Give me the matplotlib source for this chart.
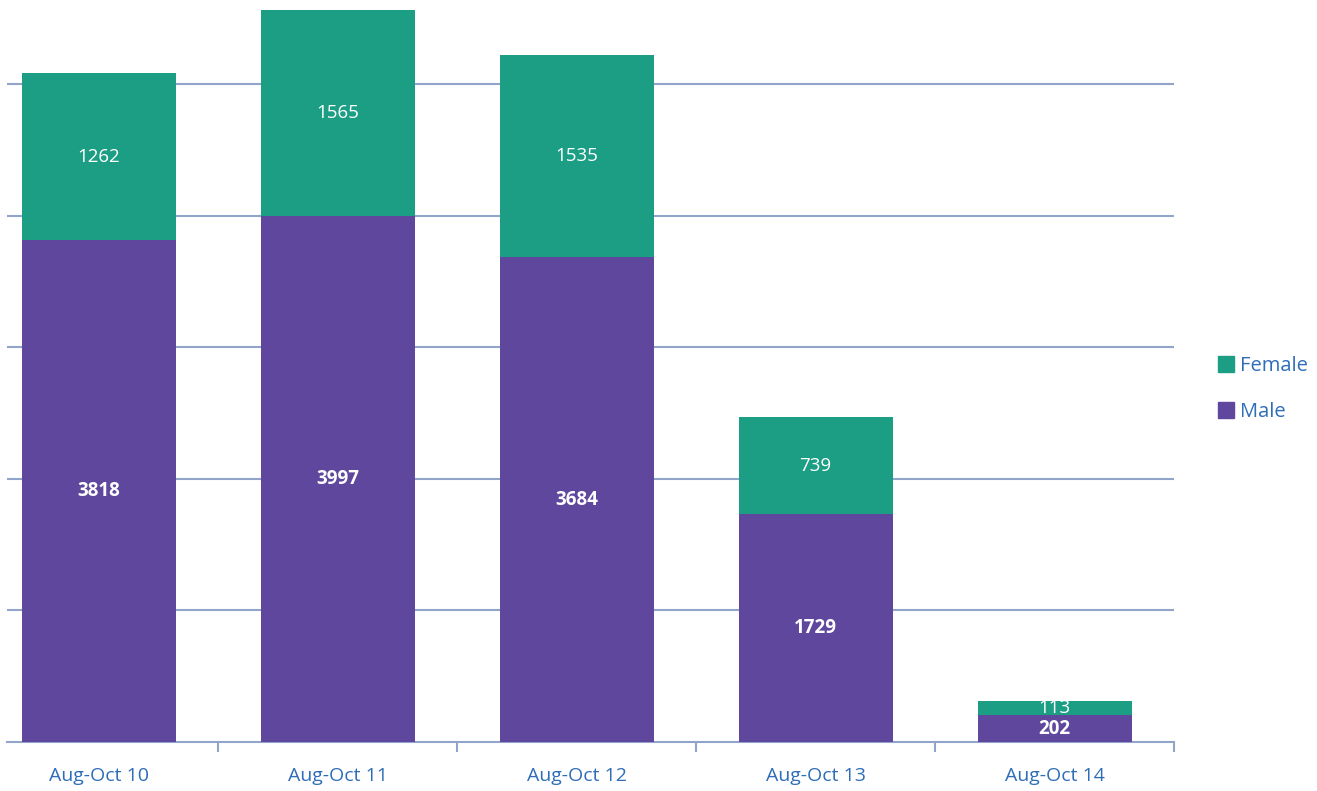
import matplotlib
matplotlib.use("Agg")
import matplotlib.pyplot as plt
from matplotlib.patches import Patch

categories = ["Aug-Oct 10", "Aug-Oct 11", "Aug-Oct 12", "Aug-Oct 13", "Aug-Oct 14"]
male = [3818, 3997, 3684, 1729, 202]
female = [1262, 1565, 1535, 739, 113]

male_color = "#5E479D"
female_color = "#1C9E84"
grid_color = "#93A4CB"
text_color = "#2E6DB8"

plt.rcParams['font.family'] = ['Open Sans', 'DejaVu Sans']

fig = plt.figure(figsize=(13.17, 7.91), dpi=100)
W, H = 1317, 791
ax = fig.add_axes([7 / W, 49 / H, (1174 - 7) / W, 742 / H])

x = list(range(len(categories)))
bw = 154 / 239
ax.bar(x, male, width=bw, color=male_color, zorder=3)
ax.bar(x, female, width=bw, bottom=male, color=female_color, zorder=3)

for i in x:
    ax.text(i, male[i] / 2, str(male[i]), ha="center", va="center",
            color="white", fontsize=13.5, fontweight="bold", zorder=4)
    ax.text(i, male[i] + female[i] / 2, str(female[i]), ha="center", va="center",
            color="white", fontsize=13.5, zorder=4)

ax.set_xlim(-0.385, 4.5)
ax.set_ylim(0, 742 / 131.6 * 1000)
ax.set_yticks([1000, 2000, 3000, 4000, 5000])
ax.yaxis.grid(True, color=grid_color, linewidth=1.5, zorder=0)
ax.tick_params(axis="y", left=False, labelleft=False)
for s in ["top", "right", "left"]:
    ax.spines[s].set_visible(False)
ax.spines["bottom"].set_color(grid_color)
ax.spines["bottom"].set_linewidth(1.5)

ax.set_xticks(x)
ax.set_xticklabels(categories, color=text_color, fontsize=14)
ax.tick_params(axis="x", length=0, pad=18)
ax.set_xticks([0.5, 1.5, 2.5, 3.5, 4.5], minor=True)
ax.tick_params(axis="x", which="minor", length=7, width=1.5, color=grid_color, direction="out")

handles = [Patch(color=female_color, label="Female"), Patch(color=male_color, label="Male")]
leg = fig.legend(handles=handles, loc="center left", bbox_to_anchor=(1200 / W, 1 - 389 / H),
                 frameon=False, fontsize=14.5, handlelength=0.8, handleheight=0.8,
                 handletextpad=0.3, labelspacing=1.3)
for t in leg.get_texts():
    t.set_color(text_color)

fig.savefig("out.png", dpi=100)
